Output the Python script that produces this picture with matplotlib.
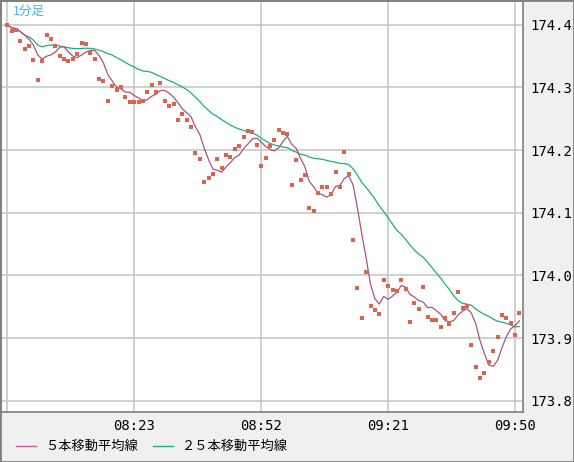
import matplotlib
matplotlib.use("Agg")
import matplotlib.pyplot as plt
import numpy as np
import pandas as pd

# pixel y of each 1-minute close, converted to price below
price_px = [25,31,30,41,49,46,60,80,61,35, 39,46,56,59,61,59,54,43,44,53,
            59,79,81,101,86,90,87,97,102,102, 102,101,92,85,92,83,101,106,104,120,
            114,120,127,153,159,182,178,174,159,168, 155,157,149,146,137,131,132,145,166,158,
            146,140,130,133,134,185,160,180,175,208, 211,193,187,187,194,172,187,152,174,240,
            288,318,272,306,310,314,280,286,290,291, 280,289,322,303,309,287,317,320,320,327,
            318,324,313,292,308,306,345,367,378,373, 362,351,337,315,318,323,335,313]
prices = [round(174.4 - (p - 25) / 626.0, 4) for p in price_px]
tick_labels = ["08:23", "08:52", "09:21", "09:50"]
tick_idx = [29, 58, 87, 116]
yticks = [173.8, 173.9, 174.0, 174.1, 174.2, 174.3, 174.4]

s = pd.Series(prices)
ma5 = s.rolling(5, min_periods=1).mean()
ma25 = s.rolling(25, min_periods=1).mean()
x = np.arange(len(prices))

fig = plt.figure(figsize=(5.74, 4.62), dpi=100, facecolor="#f0f0f0")
ax = fig.add_axes([1/574, 1 - 412/462, 522/574, 411/462])
ax.set_facecolor("white")
ax.set_xlim(-1.4, 117.8)
ax.set_ylim(173.782, 174.438)
for t in [0] + tick_idx:
    ax.axvline(t, color="#c8c8c8", lw=1.2, zorder=0)
for v in yticks:
    ax.axhline(v, color="#c8c8c8", lw=1.2, zorder=0)

ax.plot(x, ma25, color="#1fae7c", lw=0.9, zorder=2)
ax.plot(x, ma5, color="#a8557f", lw=0.9, zorder=3)
ax.scatter(x, prices, marker="s", s=9, color="#d9654c", zorder=4, linewidths=0)

ax.set_xticks(tick_idx)
ax.set_xticklabels(tick_labels, family="DejaVu Sans Mono", fontsize=10)
ax.set_yticks(yticks)
ax.set_yticklabels([f"{v:.1f}" for v in yticks], family="DejaVu Sans Mono", fontsize=10)
ax.yaxis.tick_right()
ax.tick_params(length=0, pad=5)
for sp in ax.spines.values():
    sp.set_color("#808080")
    sp.set_linewidth(1.2)

fig.text(13/574, 1-11/462, "1分足", ha="left", va="center",
         color="#3db8e8", fontsize=9, family=["Noto Sans CJK JP", "DejaVu Sans"])

# legend
fig.lines.append(plt.Line2D([16/574, 36/574], [1-446/462]*2, color="#c0608a", lw=1, transform=fig.transFigure))
fig.text(45/574, 1-446/462, "５本移動平均線", va="center", fontsize=9.5,
         family=["Noto Sans CJK JP", "DejaVu Sans"])
fig.lines.append(plt.Line2D([153/574, 173/574], [1-446/462]*2, color="#1fae7c", lw=1, transform=fig.transFigure))
fig.text(182/574, 1-446/462, "２５本移動平均線", va="center", fontsize=9.5,
         family=["Noto Sans CJK JP", "DejaVu Sans"])
fig.patches.append(plt.Rectangle((0, 0), 1, 1, fill=False, edgecolor="#808080", lw=2, transform=fig.transFigure))

fig.savefig("out.png", dpi=100, facecolor=fig.get_facecolor())
